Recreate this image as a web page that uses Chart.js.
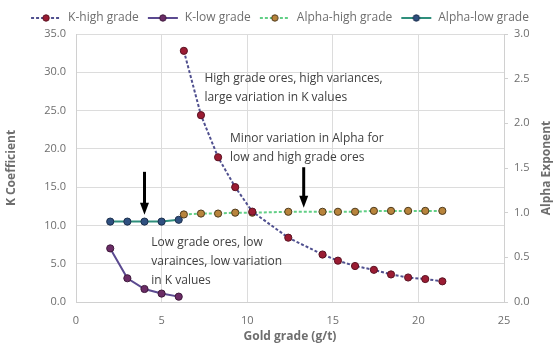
<!DOCTYPE html>
<html>
<head>
<meta charset="utf-8">
<script src="https://cdn.jsdelivr.net/npm/chart.js@4"></script>
<style>
  html, body { margin: 0; padding: 0; background: #fff; }
  #wrap { width: 559px; height: 356px; }
</style>
</head>
<body>
<div id="wrap"><canvas id="chart"></canvas></div>
<script>
// Gold grade (g/t) for low and high grade ores
const gradeLow = [2.0, 3.0, 4.0, 5.0, 6.0];
const gradeHigh = [6.3, 7.3, 8.3, 9.3, 10.3, 12.4, 14.4, 15.3, 16.3, 17.4, 18.4, 19.4, 20.4, 21.4];

// K coefficient (left axis)
const kLow = [7.0, 3.1, 1.7, 1.1, 0.7];
const kHigh = [32.8, 24.4, 18.9, 15.0, 11.8, 8.4, 6.2, 5.4, 4.7, 4.2, 3.6, 3.2, 3.0, 2.7];

// Alpha exponent (right axis)
const alphaLow = [0.90, 0.90, 0.90, 0.90, 0.92];
const alphaHigh = [0.98, 0.99, 0.99, 1.00, 1.00, 1.01, 1.01, 1.01, 1.01, 1.02, 1.02, 1.02, 1.02, 1.02];

const seriesNames = ['K-high grade', 'K-low grade', 'Alpha-high grade', 'Alpha-low grade'];

const FONT = '"Open Sans", "Liberation Sans", sans-serif';
const GREY = '#6e6e6e';

function toPoints(xs, ys) {
  return xs.map((x, i) => ({ x: x, y: ys[i] }));
}

// small legend swatch: line + marker
function swatch(lineColor, dash, fill, border) {
  const c = document.createElement('canvas');
  c.width = 32;
  c.height = 10;
  const ctx = c.getContext('2d');
  ctx.strokeStyle = lineColor;
  ctx.lineWidth = 2;
  ctx.setLineDash(dash);
  ctx.beginPath();
  ctx.moveTo(1, 5);
  ctx.lineTo(31, 5);
  ctx.stroke();
  ctx.setLineDash([]);
  ctx.beginPath();
  ctx.arc(16, 5, 3.2, 0, Math.PI * 2);
  ctx.fillStyle = fill;
  ctx.fill();
  ctx.lineWidth = 1;
  ctx.strokeStyle = border;
  ctx.stroke();
  return c;
}

const styles = [
  { line: '#50508f', dash: [3, 2], fill: '#9b1c33', border: '#5a1222' },
  { line: '#5b4a90', dash: [], fill: '#6b2c66', border: '#3e1a3c' },
  { line: '#62cf86', dash: [3, 2], fill: '#b8843c', border: '#4d3a1c' },
  { line: '#2f8f7c', dash: [], fill: '#2f5080', border: '#1c2f4c' }
];

// annotations placed in data units
const notes = [
  { x: 7.5, y: 29.2, lines: ['High grade ores, high variances,', 'large variation in K values'] },
  { x: 9.0, y: 21.3, lines: ['Minor variation in Alpha for', 'low and high grade ores'] },
  { x: 4.4, y: 7.7, lines: ['Low grade ores, low', 'varainces, low variation', 'in K values'] }
];
const arrows = [
  { x: 4.0, from: 17.0, to: 11.4 },
  { x: 13.3, from: 17.6, to: 12.3 }
];

const annotationPlugin = {
  id: 'notes',
  afterDatasetsDraw(chart) {
    const ctx = chart.ctx;
    const xs = chart.scales.x;
    const ys = chart.scales.y;
    ctx.save();
    ctx.fillStyle = '#404040';
    ctx.font = '12px ' + FONT;
    ctx.textBaseline = 'middle';
    notes.forEach(n => {
      const px = xs.getPixelForValue(n.x);
      const py = ys.getPixelForValue(n.y);
      n.lines.forEach((t, i) => ctx.fillText(t, px, py + i * 19));
    });
    ctx.strokeStyle = '#000';
    ctx.fillStyle = '#000';
    arrows.forEach(a => {
      const px = xs.getPixelForValue(a.x);
      const top = ys.getPixelForValue(a.from);
      const tip = ys.getPixelForValue(a.to);
      ctx.lineWidth = 3;
      ctx.beginPath();
      ctx.moveTo(px, top);
      ctx.lineTo(px, tip - 10);
      ctx.stroke();
      ctx.beginPath();
      ctx.moveTo(px - 4.5, tip - 12);
      ctx.lineTo(px + 4.5, tip - 12);
      ctx.lineTo(px, tip);
      ctx.closePath();
      ctx.fill();
    });

    // right axis title, reading bottom to top
    const y2 = chart.scales.y2;
    ctx.save();
    ctx.translate(y2.right - 12, (y2.top + y2.bottom) / 2);
    ctx.rotate(-Math.PI / 2);
    ctx.textAlign = 'center';
    ctx.textBaseline = 'middle';
    ctx.fillStyle = GREY;
    ctx.font = 'bold 12px ' + FONT;
    ctx.fillText('Alpha Exponent', 0, 0);
    ctx.restore();

    ctx.restore();
  }
};

const seriesData = [
  { xs: gradeHigh, ys: kHigh, axis: 'y' },
  { xs: gradeLow, ys: kLow, axis: 'y' },
  { xs: gradeHigh, ys: alphaHigh, axis: 'y2' },
  { xs: gradeLow, ys: alphaLow, axis: 'y2' }
];

const datasets = seriesData.map((s, i) => ({
  label: seriesNames[i],
  data: toPoints(s.xs, s.ys),
  yAxisID: s.axis,
  borderColor: styles[i].line,
  borderWidth: 2,
  borderDash: styles[i].dash,
  pointRadius: 3.6,
  pointBackgroundColor: styles[i].fill,
  pointBorderColor: styles[i].border,
  pointBorderWidth: 1,
  tension: 0
}));

new Chart(document.getElementById('chart'), {
  type: 'line',
  data: { datasets: datasets },
  options: {
    responsive: true,
    maintainAspectRatio: false,
    animation: false,
    layout: { padding: { top: 4, left: 0, right: 0, bottom: 0 } },
    plugins: {
      tooltip: { enabled: false },
      legend: {
        position: 'top',
        labels: {
          usePointStyle: true,
          pointStyleWidth: 32,
          boxHeight: 10,
          padding: 8,
          color: GREY,
          font: { family: FONT, size: 12 },
          generateLabels: (chart) => seriesNames.map((name, i) => ({
            text: name,
            fontColor: GREY,
            pointStyle: swatch(styles[i].line, styles[i].dash, styles[i].fill, styles[i].border),
            hidden: false,
            lineWidth: 0,
            datasetIndex: i
          }))
        }
      }
    },
    scales: {
      x: {
        type: 'linear',
        min: 0,
        max: 25,
        ticks: { stepSize: 5, color: GREY, font: { family: FONT, size: 11 }, padding: 12 },
        grid: { color: '#dcdcdc', drawTicks: false },
        border: { color: '#d0d0d0' },
        title: { display: true, text: 'Gold grade (g/t)', color: GREY, font: { family: FONT, size: 12, weight: 'bold' }, padding: { top: 0, bottom: 12 } },
        afterFit: (scale) => { scale.height = 54; }
      },
      y: {
        position: 'left',
        min: 0,
        max: 35,
        ticks: { stepSize: 5, color: GREY, font: { family: FONT, size: 11 }, padding: 10, callback: v => v.toFixed(1) },
        grid: { color: '#dcdcdc', drawTicks: false },
        border: { color: '#d0d0d0' },
        title: { display: true, text: 'K Coefficient', color: GREY, font: { family: FONT, size: 12, weight: 'bold' } },
        afterFit: (scale) => { scale.width = 76; }
      },
      y2: {
        position: 'right',
        min: 0,
        max: 3,
        ticks: { stepSize: 0.5, color: GREY, font: { family: FONT, size: 11 }, padding: 6, callback: v => v.toFixed(1) },
        grid: { drawOnChartArea: false, tickLength: 4, color: '#d0d0d0' },
        border: { color: '#d0d0d0' },
        title: { display: false },
        afterFit: (scale) => { scale.width = 55; }
      }
    }
  },
  plugins: [annotationPlugin]
});
</script>
</body>
</html>
